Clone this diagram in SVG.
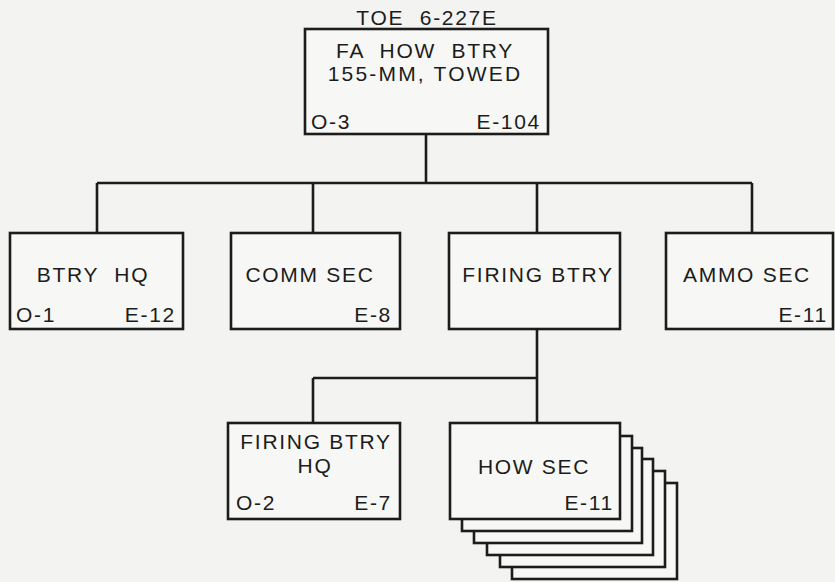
<svg xmlns="http://www.w3.org/2000/svg" width="835" height="582" viewBox="0 0 835 582">
<style>
.box{fill:#f7f7f5;stroke:#1c1c1c;stroke-width:2.6}
.ln{fill:none;stroke:#1c1c1c;stroke-width:2.6}
text{font-family:"Liberation Sans",Arial,sans-serif;font-size:21px;fill:#1c1c1c;letter-spacing:1.7px}
.m{text-anchor:middle}
.e{text-anchor:end}
.w{word-spacing:8px}
</style>
<rect x="0" y="0" width="835" height="582" fill="#f3f3f1"/>
<g id="connectors">
<path class="ln" d="M426 135V183M97 183H752M97 183V233M313 183V233M537 183V233M752 183V233"/>
<path class="ln" d="M537 330V423M313 378H537M313 378V423"/>
</g>
<text id="title" class="m w" x="427" y="25">TOE 6-227E</text>
<g id="top">
<rect class="box" x="305" y="29" width="243" height="105"/>
<text class="m w" x="425" y="58">FA HOW BTRY</text>
<text class="m" x="425" y="81" style="letter-spacing:2.2px">155-MM, TOWED</text>
<text x="311" y="129">O-3</text>
<text class="e" x="541" y="129">E-104</text>
</g>
<g id="btryhq">
<rect class="box" x="10" y="233" width="173" height="96"/>
<text class="m w" x="93" y="282">BTRY HQ</text>
<text x="16" y="322">O-1</text>
<text class="e" x="176" y="322">E-12</text>
</g>
<g id="commsec">
<rect class="box" x="231" y="233" width="169" height="96"/>
<text class="m" x="310" y="282">COMM SEC</text>
<text class="e" x="392" y="322">E-8</text>
</g>
<g id="firingbtry">
<rect class="box" x="449" y="233" width="171" height="96"/>
<text class="m" x="538" y="282">FIRING BTRY</text>
</g>
<g id="ammosec">
<rect class="box" x="666" y="233" width="167" height="96"/>
<text class="m" x="747" y="282">AMMO SEC</text>
<text class="e" x="828" y="322">E-11</text>
</g>
<g id="firingbtryhq">
<rect class="box" x="228" y="423" width="172" height="96"/>
<text class="m" x="316" y="449">FIRING BTRY</text>
<text class="m" x="315" y="473">HQ</text>
<text x="236" y="510">O-2</text>
<text class="e" x="392" y="510">E-7</text>
</g>
<g id="howsec">
<rect class="box" x="512" y="483" width="165" height="96"/>
<rect class="box" x="500" y="471" width="165" height="96"/>
<rect class="box" x="487" y="459" width="166" height="96"/>
<rect class="box" x="474" y="448" width="168" height="95"/>
<rect class="box" x="462" y="436" width="170" height="95"/>
<rect class="box" x="450" y="423" width="170" height="96"/>
<text class="m" x="534" y="474">HOW SEC</text>
<text class="e" x="614" y="510">E-11</text>
</g>
</svg>
